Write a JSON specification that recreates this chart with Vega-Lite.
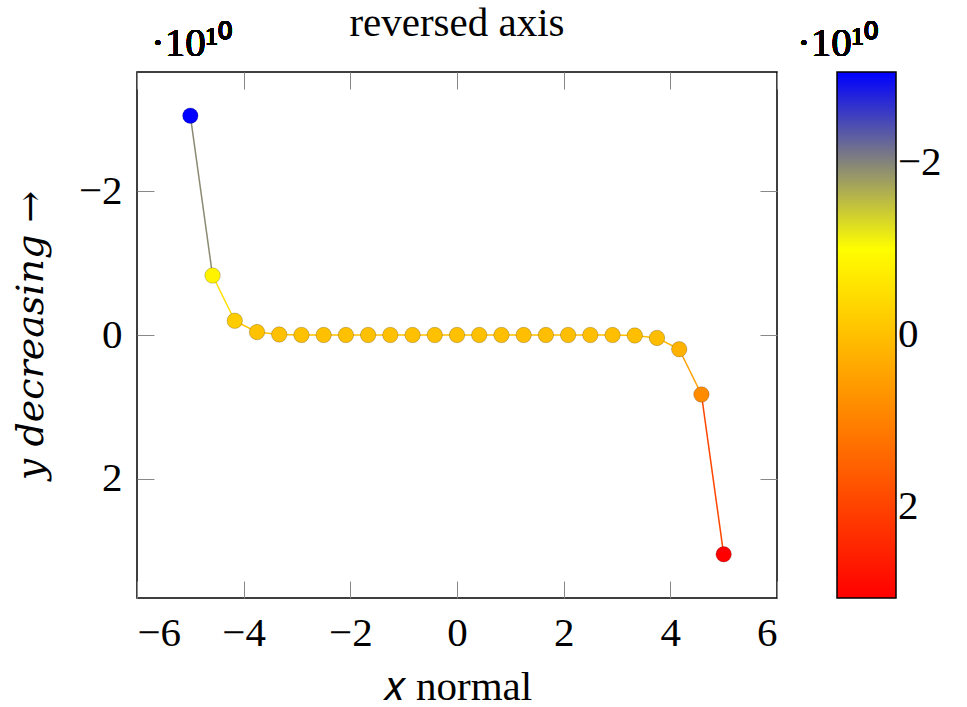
{
  "$schema": "https://vega.github.io/schema/vega-lite/v6.json",
  "width": 640,
  "height": 526,
  "autosize": {"type": "none"},
  "padding": {"left": 137, "top": 72, "right": 190, "bottom": 109},
  "background": "white",
  "title": {"text": "reversed axis", "font": "Liberation Serif", "fontSize": 41, "fontWeight": "normal", "anchor": "middle", "offset": -22, "color": "black"},
  "config": {
    "view": {"stroke": "black", "strokeWidth": 1.5},
    "axis": {
      "grid": false,
      "domain": false,
      "tickColor": "#888888",
      "tickWidth": 1,
      "tickSize": -17,
      "labelFont": "Liberation Serif",
      "labelFontSize": 41,
      "labelColor": "black",
      "titleFont": "Liberation Serif",
      "titleFontSize": 41,
      "titleFontWeight": "normal",
      "titleColor": "black"
    },
    "legend": {
      "orient": "none", "legendX": 700, "legendY": 0, "direction": "vertical", "title": null,
      "gradientLength": 526, "gradientThickness": 59, "gradientStrokeColor": "black", "gradientStrokeWidth": 1.5,
      "labelFont": "Liberation Serif", "labelFontSize": 41, "labelColor": "black", "labelOffset": 27
    }
  },
  "data": {"values": [
    {"x": -5, "y": -30517578125},
    {"x": -4.583333, "y": -8274100000},
    {"x": -4.166667, "y": -1980810000},
    {"x": -3.75, "y": -407830000},
    {"x": -3.333333, "y": -69692000},
    {"x": -2.916667, "y": -9403800},
    {"x": -2.5, "y": -931323},
    {"x": -2.083333, "y": -60448},
    {"x": -1.666667, "y": -2126.8},
    {"x": -1.25, "y": -28.42},
    {"x": -0.833333, "y": -0.0649},
    {"x": -0.416667, "y": -0.000002},
    {"x": 0, "y": 0},
    {"x": 0.416667, "y": 0.000002},
    {"x": 0.833333, "y": 0.0649},
    {"x": 1.25, "y": 28.42},
    {"x": 1.666667, "y": 2126.8},
    {"x": 2.083333, "y": 60448},
    {"x": 2.5, "y": 931323},
    {"x": 2.916667, "y": 9403800},
    {"x": 3.333333, "y": 69692000},
    {"x": 3.75, "y": 407830000},
    {"x": 4.166667, "y": 1980810000},
    {"x": 4.583333, "y": 8274100000},
    {"x": 5, "y": 30517578125}
  ]},
  "resolve": {"axis": {"x": "independent", "y": "independent"}},
  "layer": [
    {
      "transform": [
        {"window": [
          {"op": "lead", "field": "x", "as": "x2"},
          {"op": "lead", "field": "y", "as": "y2"},
          {"op": "mean", "field": "y", "as": "ym"}
        ], "sort": [{"field": "x"}], "frame": [0, 1]},
        {"filter": "datum.x2 != null"}
      ],
      "mark": {"type": "rule", "strokeWidth": 1.5},
      "encoding": {
        "x": {"field": "x", "type": "quantitative", "scale": {"domain": [-6, 6], "nice": false, "zero": false},
              "axis": {"values": [-6, -4, -2, 0, 2, 4, 6], "labelExpr": "format(datum.value,'d')", "labelPadding": 32, "title": "𝑥 normal", "titlePadding": 14}},
        "y": {"field": "y", "type": "quantitative", "scale": {"domain": [-36600000000, 36600000000], "reverse": true, "nice": false, "zero": false},
              "axis": {"values": [-20000000000, 0, 20000000000], "labelExpr": "format(datum.value/1e10,'d')", "labelPadding": 32, "title": "y decreasing →", "titleFont": "DejaVu Serif", "titleFontSize": 38, "titleFontStyle": "italic", "titlePadding": 28}},
        "x2": {"field": "x2"},
        "y2": {"field": "y2"},
        "stroke": {"field": "ym", "type": "quantitative", "legend": null,
                  "scale": {"domain": [-30517578126, -10172526042, 10172526042, 30517578126], "range": ["#0000ff", "#ffff00", "#ff8000", "#ff0000"], "interpolate": "rgb"}}
      }
    },
    {
      "mark": {"type": "circle", "size": 240, "opacity": 1, "stroke": "black", "strokeOpacity": 0.2, "strokeWidth": 1},
      "encoding": {
        "x": {"field": "x", "type": "quantitative", "axis": {"orient": "top", "labels": false, "title": null, "values": [-6, -4, -2, 0, 2, 4, 6]}},
        "y": {"field": "y", "type": "quantitative", "axis": {"orient": "right", "labels": false, "title": null, "values": [-20000000000, 0, 20000000000]}},
        "color": {"field": "y", "type": "quantitative",
                  "scale": {"domain": [30517578125, 10172526042, -10172526042, -30517578125], "range": ["#ff0000", "#ff8000", "#ffff00", "#0000ff"], "interpolate": "rgb"},
                  "legend": {"type": "gradient", "values": [-20000000000, 0, 20000000000], "labelExpr": "format(datum.value/1e10,'d')"}}
      }
    },
    {
      "mark": {"type": "text", "font": "Liberation Serif", "fontSize": 41, "align": "left", "baseline": "alphabetic", "dx": 14, "dy": -16, "color": "black"},
      "encoding": {
        "x": {"datum": -6, "axis": null},
        "y": {"datum": -36600000000, "axis": null},
        "text": {"value": "·10¹⁰"}
      }
    },
    {
      "mark": {"type": "text", "font": "Liberation Serif", "fontSize": 41, "align": "left", "baseline": "alphabetic", "dx": 20, "dy": -16, "color": "black"},
      "encoding": {
        "x": {"datum": 6, "axis": null},
        "y": {"datum": -36600000000, "axis": null},
        "text": {"value": "·10¹⁰"}
      }
    }
  ]
}
